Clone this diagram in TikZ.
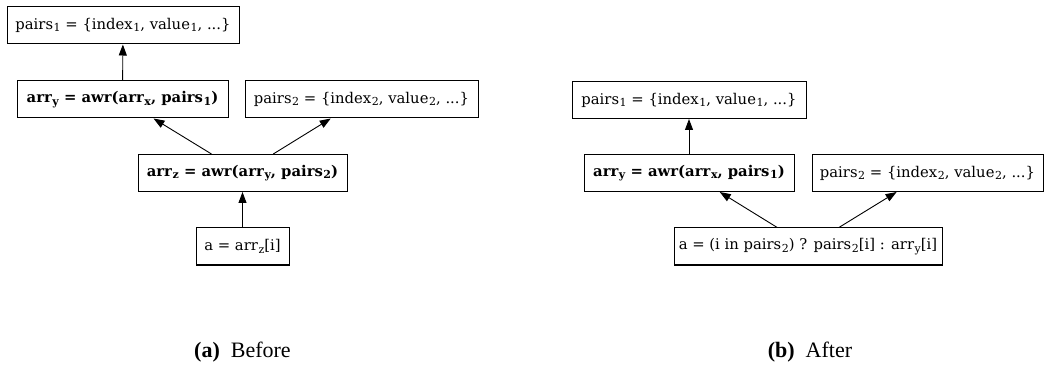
\documentclass[tikz,border=0pt]{standalone}
\usepackage{fontspec}
\setmainfont{DejaVu Serif}
\newfontfamily\capfont{Liberation Serif}
\usetikzlibrary{arrows.meta}
% lowered, smaller index text
\newcommand\lo[1]{\kern0.6pt\raisebox{-0.3ex}{\fontsize{11pt}{11pt}\selectfont #1}}

\begin{document}
\begin{tikzpicture}[x=1pt,y=-1pt,
  box/.style={draw, line width=1pt, inner sep=0pt, minimum height=37pt,
    font=\fontsize{14.8pt}{17pt}\selectfont},
  dep/.style={line width=0.9pt, -{Triangle[length=11pt,width=8pt]}},
  subcap/.style={font=\capfont\fontsize{22pt}{24pt}\selectfont, anchor=base, inner sep=0pt}]
\useasboundingbox (0,0) rectangle (1047,366);

% (a) before
\node[box, minimum width=232pt] (p1a) at (123,25.5)
  {pairs\lo{1} = \{index\lo{1}, value\lo{1}, ...\}};
\node[box, minimum width=211pt] (ya) at (122.5,99.5)
  {\bfseries arr\lo{\bfseries y} = awr(arr\lo{\bfseries x}, pairs\lo{\bfseries 1})};
\node[box, minimum width=233pt] (p2a) at (361.5,99.5)
  {pairs\lo{2} = \{index\lo{2}, value\lo{2}, ...\}};
\node[box, minimum width=209pt] (za) at (242.5,173)
  {\bfseries arr\lo{\bfseries z} = awr(arr\lo{\bfseries y}, pairs\lo{\bfseries 2})};
\node[box, minimum width=93pt] (aa) at (242.5,246.5)
  {a = arr\lo{z}[i]};

\draw[dep] (ya) -- (p1a);
\draw[dep] (za) -- (ya);
\draw[dep] (za) -- (p2a);
\draw[dep] (aa) -- (za);

% (b) after
\node[box, minimum width=234pt] (p1b) at (689,100)
  {pairs\lo{1} = \{index\lo{1}, value\lo{1}, ...\}};
\node[box, minimum width=210pt] (yb) at (689,173)
  {\bfseries arr\lo{\bfseries y} = awr(arr\lo{\bfseries x}, pairs\lo{\bfseries 1})};
\node[box, minimum width=231pt] (p2b) at (927.5,173)
  {pairs\lo{2} = \{index\lo{2}, value\lo{2}, ...\}};
\node[box, minimum width=268pt] (ab) at (808,246.5)
  {a = (i in pairs\lo{2}) ? pairs\lo{2}[i] : arr\lo{y}[i]};

\draw[dep] (yb) -- (p1b);
\draw[dep] (ab) -- (yb);
\draw[dep] (ab) -- (p2b);

% sub-captions
\node[subcap] (capa) at (242.5,357) {\textbf{(a)}\hspace{11pt}Before};
\node[subcap] (capb) at (810,357) {\textbf{(b)}\hspace{11pt}After};
\end{tikzpicture}
\end{document}
